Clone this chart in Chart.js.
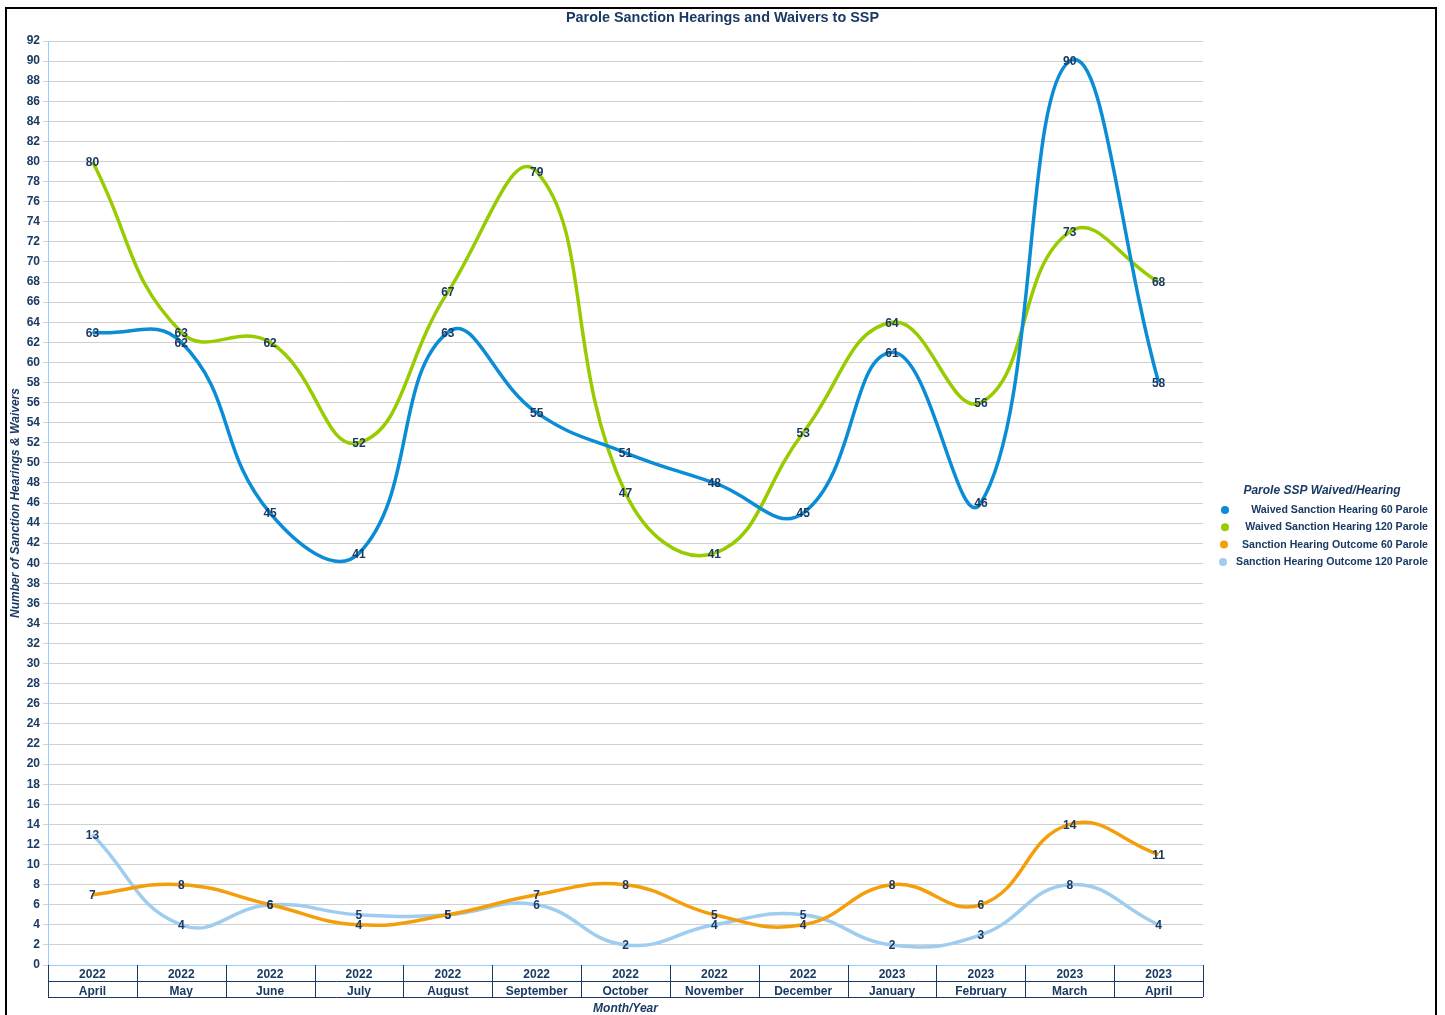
<!DOCTYPE html>
<html>
<head>
<meta charset="utf-8">
<title>Parole Sanction Hearings and Waivers to SSP</title>
<script src="https://cdn.jsdelivr.net/npm/chart.js@4.4.1/dist/chart.umd.min.js"></script>
<style>
    html, body { margin: 0; padding: 0; background: #fff; }
    #wrap { position: relative; width: 1445px; height: 1015px; overflow: hidden; }
    #frame {
        position: absolute; left: 5px; top: 7px; width: 1432px; height: 1030px;
        border: 2px solid #000; box-sizing: border-box; pointer-events: none;
    }
    #chart { position: absolute; left: 0; top: 0; }
</style>
</head>
<body>
<div id="wrap">
    <canvas id="chart" width="1445" height="1015"></canvas>
    <div id="frame"></div>
</div>
<script>
/* Parole SSP — waived / hearing chart */

// ---- data ----------------------------------------------------------
var years  = ['2022', '2022', '2022', '2022', '2022', '2022', '2022', '2022', '2022', '2023', '2023', '2023', '2023'];
var months = ['April', 'May', 'June', 'July', 'August', 'September', 'October', 'November', 'December', 'January', 'February', 'March', 'April'];

var waived60    = [63, 62, 45, 41, 63, 55, 51, 48, 45, 61, 46, 90, 58];
var waived120   = [80, 63, 62, 52, 67, 79, 47, 41, 53, 64, 56, 73, 68];
var outcome60   = [7, 8, 6, 4, 5, 7, 8, 5, 4, 8, 6, 14, 11];
var outcome120  = [13, 4, 6, 5, 5, 6, 2, 4, 5, 2, 3, 8, 4];

var yMin = 0, yMax = 92, yStep = 2;

var NAVY = '#1b3a63';
var FONT = '"Liberation Sans", Arial, sans-serif';
var TITLE = 'Parole Sanction Hearings and Waivers to SSP';

// ---- plugins -------------------------------------------------------
// value printed on top of every point (Excel "center" labels)
var pointLabels = {
    id: 'pointLabels',
    afterDatasetsDraw: function (chart) {
        var ctx = chart.ctx;
        ctx.save();
        ctx.font = 'bold 12px ' + FONT;
        ctx.fillStyle = NAVY;
        ctx.textAlign = 'center';
        ctx.textBaseline = 'middle';
        chart.data.datasets.forEach(function (ds, i) {
            chart.getDatasetMeta(i).data.forEach(function (pt, j) {
                ctx.fillText(String(ds.data[j]), pt.x, pt.y + 1);
            });
        });
        ctx.restore();
    }
};

// year / month table under the plot
var axisTable = {
    id: 'axisTable',
    afterDraw: function (chart) {
        var sc = chart.scales.x, ctx = chart.ctx;
        var half = (sc.getPixelForValue(1) - sc.getPixelForValue(0)) / 2;
        var top = sc.top, rowH = 16;
        ctx.save();
        ctx.strokeStyle = NAVY;
        ctx.lineWidth = 1;
        ctx.beginPath();
        for (var i = 0; i <= months.length; i++) {
            var x = Math.round(sc.getPixelForValue(0) - half + i * 2 * half) + 0.5;
            ctx.moveTo(x, top);
            ctx.lineTo(x, top + rowH * 2);
        }
        ctx.moveTo(sc.left, top + rowH + 0.5);
        ctx.lineTo(sc.right, top + rowH + 0.5);
        ctx.moveTo(sc.left, top + rowH * 2 + 0.5);
        ctx.lineTo(sc.right, top + rowH * 2 + 0.5);
        ctx.stroke();
        ctx.restore();
    }
};

// title centred on the whole page, legend block at right (text right aligned)
var sideLegend = {
    id: 'sideLegend',
    afterDraw: function (chart) {
        var ctx = chart.ctx;
        var right = 1428, dotX = 1225, y0 = 510, gap = 17.3;
        ctx.save();
        ctx.fillStyle = NAVY;
        ctx.textBaseline = 'middle';
        ctx.textAlign = 'center';
        ctx.font = 'bold 14.4px ' + FONT;
        ctx.fillText(TITLE, chart.width / 2, 18.5);
        ctx.font = 'italic bold 12px ' + FONT;
        ctx.fillText('Parole SSP Waived/Hearing', 1322, 491);
        ctx.font = 'bold 10.6px ' + FONT;
        ctx.textAlign = 'right';
        chart.data.datasets.forEach(function (ds, i) {
            var y = y0 + i * gap;
            ctx.fillStyle = ds.borderColor;
            ctx.beginPath();
            ctx.arc(dotX - (i > 1 ? i - 1 : 0), y, 4, 0, Math.PI * 2);
            ctx.fill();
            ctx.fillStyle = NAVY;
            ctx.fillText(ds.label, right, y);
        });
        ctx.restore();
    }
};

// ---- chart ---------------------------------------------------------
function serie(label, data, color) {
    return {
        label: label,
        data: data,
        borderColor: color,
        backgroundColor: color,
        borderWidth: 3.5,
        pointRadius: 0,
        pointHoverRadius: 0,
        tension: 0.45,
        fill: false
    };
}

new Chart(document.getElementById('chart'), {
    type: 'line',
    data: {
        labels: years.map(function (y, i) { return [y, months[i]]; }),
        datasets: [
            serie('Waived Sanction Hearing 60 Parole',   waived60,   '#0b8dd5'),
            serie('Waived Sanction Hearing 120 Parole',  waived120,  '#99cc00'),
            serie('Sanction Hearing Outcome 60 Parole',  outcome60,  '#f59e0b'),
            serie('Sanction Hearing Outcome 120 Parole', outcome120, '#9fcdef')
        ]
    },
    options: {
        responsive: false,
        animation: false,
        layout: { padding: { left: 0, right: 242, top: 41, bottom: 0 } },
        plugins: {
            legend: { display: false },
            tooltip: { enabled: false },
            title: { display: false }
        },
        scales: {
            x: {
                offset: true,
                grid: { display: false, drawTicks: false, tickLength: 0 },
                border: { display: true, color: '#99ccff', width: 1 },
                ticks: {
                    color: NAVY,
                    padding: 1,
                    font: { family: FONT, size: 12, weight: 'bold', lineHeight: 1.4 }
                },
                title: {
                    display: true,
                    text: 'Month/Year',
                    color: NAVY,
                    font: { family: FONT, size: 12, weight: 'bold', style: 'italic' },
                    padding: { top: 0, bottom: -1 }
                },
                afterFit: function (s) { s.height = 50; }
            },
            y: {
                min: yMin,
                max: yMax,
                ticks: {
                    stepSize: yStep,
                    color: NAVY,
                    padding: 3,
                    font: { family: FONT, size: 12, weight: 'bold' }
                },
                grid: { color: '#d0d0d0', tickLength: 5 },
                border: { color: '#99ccff', width: 1 },
                title: {
                    display: true,
                    text: 'Number of Sanction Hearings & Waivers',
                    color: NAVY,
                    font: { family: FONT, size: 12, weight: 'bold', style: 'italic' },
                    padding: { top: 8, bottom: 0 }
                },
                afterFit: function (s) { s.width = 48; }
            }
        }
    },
    plugins: [pointLabels, axisTable, sideLegend]
});
</script>
</body>
</html>
